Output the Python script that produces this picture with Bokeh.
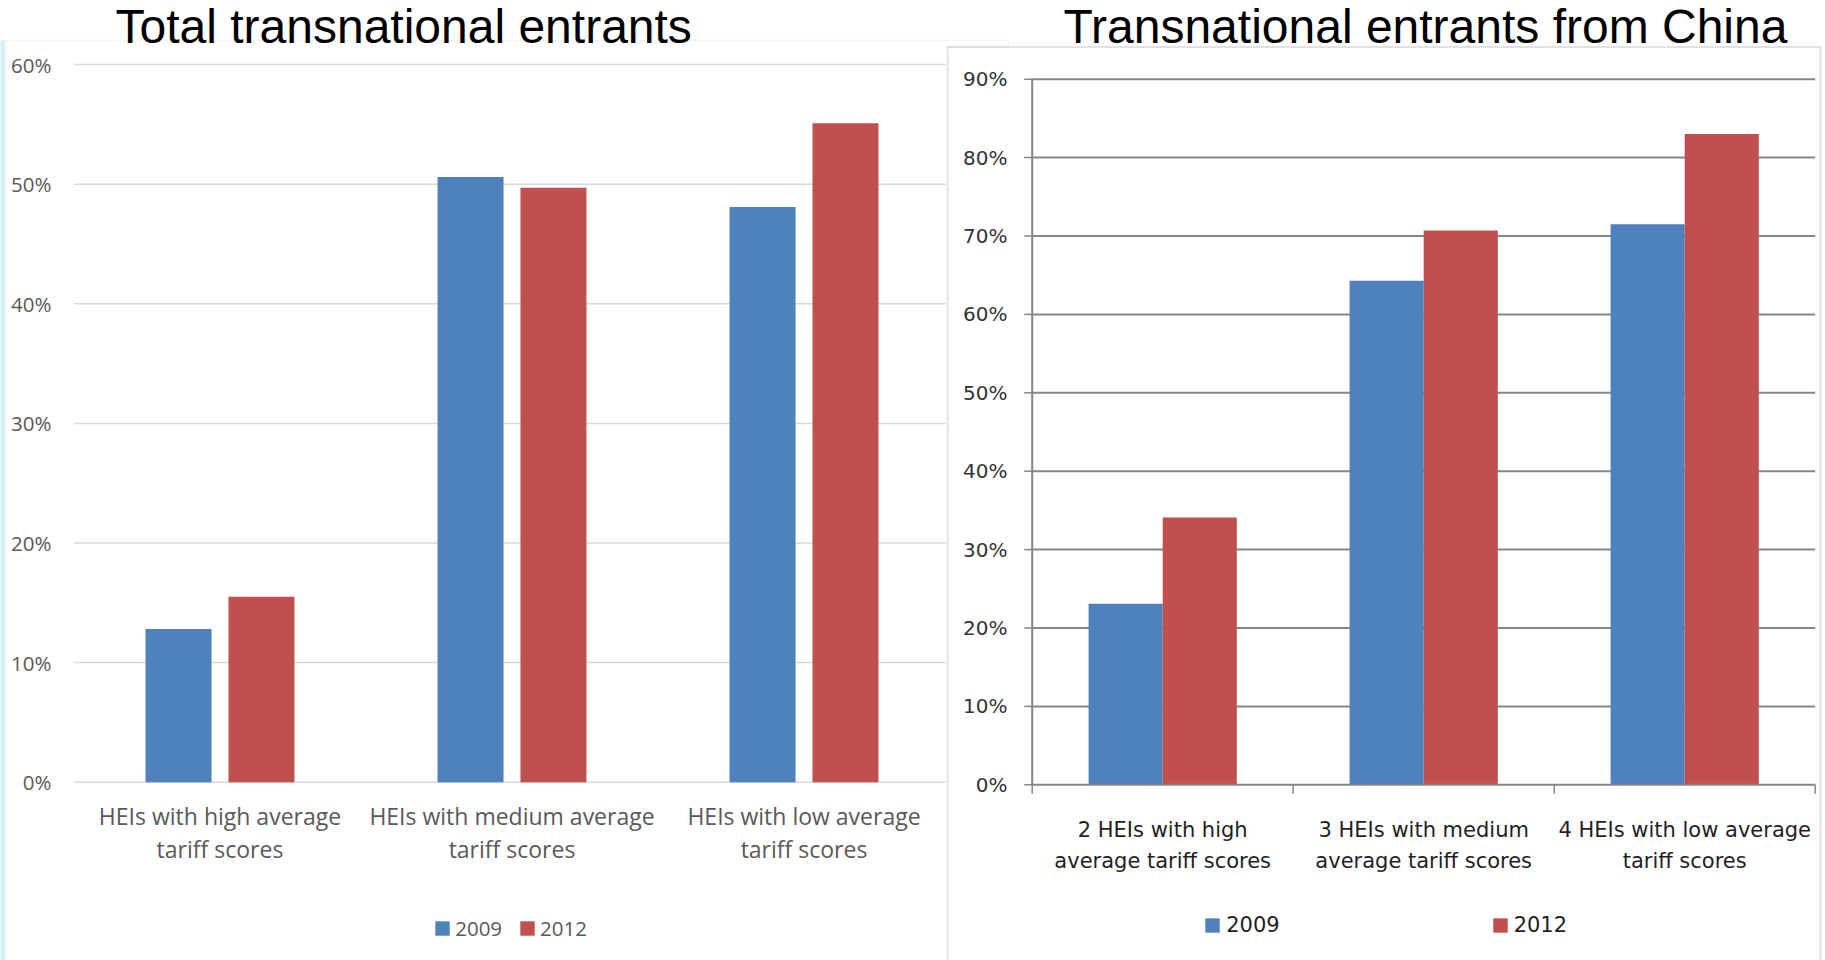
from bokeh.plotting import figure
from bokeh.layouts import row
from bokeh.models import (Range1d, Legend, LegendItem, Label, BoxAnnotation,
                          ColumnDataSource)
from bokeh.core.properties import value
from bokeh.transform import dodge
from bokeh.embed import file_html
from bokeh.resources import INLINE

# ---- data -------------------------------------------------------------
years = ["2009", "2012"]

total_categories = [
    "HEIs with high average\ntariff scores",
    "HEIs with medium average\ntariff scores",
    "HEIs with low average\ntariff scores",
]
total_2009 = [0.128, 0.506, 0.481]
total_2012 = [0.155, 0.497, 0.551]
total_ticks = [0.0, 0.1, 0.2, 0.3, 0.4, 0.5, 0.6]

china_categories = [
    "2 HEIs with high\naverage tariff scores",
    "3 HEIs with medium\naverage tariff scores",
    "4 HEIs with low average\ntariff scores",
]
china_2009 = [0.231, 0.643, 0.715]
china_2012 = [0.341, 0.707, 0.830]
china_ticks = [0.0, 0.1, 0.2, 0.3, 0.4, 0.5, 0.6, 0.7, 0.8, 0.9]

BLUE = "#4f81bd"
RED = "#c0504d"


def pct(t):
    return f"{round(t * 100)}%"


def base_figure(width, x_range, y_range):
    # the plotting frame fills the whole canvas; axes are drawn as glyphs
    p = figure(width=width, height=960, x_range=x_range, y_range=y_range,
               output_backend="svg", toolbar_location=None,
               x_axis_location=None, y_axis_location=None,
               min_border=0, min_border_left=0, min_border_right=0,
               min_border_top=0, min_border_bottom=0)
    p.outline_line_color = None
    p.grid.grid_line_color = None
    p.background_fill_color = "white"
    p.border_fill_color = "white"
    return p


# ---- left chart: total transnational entrants --------------------------
# pixel layout: value axis origin at x=73.5, 292 px per category,
# zero line at y=781.7, 1196 px per 100 %
LX = lambda px: (px - 73.5) / 292
LY = lambda py: (781.7 - py) / 1196

pos_total = [i + 0.5 for i in range(len(total_categories))]
src_total = ColumnDataSource(dict(x=pos_total, y09=total_2009, y12=total_2012,
                                  label=total_categories))
left = base_figure(946, Range1d(LX(0), LX(946)), Range1d(LY(960), LY(0)))

# tinted page edge and the chart-area frame
left.add_layout(BoxAnnotation(left=LX(-10), right=LX(4.5), top=LY(40), bottom=LY(1100),
                              fill_color="#d6f1f4", fill_alpha=1, line_color=None))
left.add_layout(BoxAnnotation(left=LX(5.5), right=LX(1100), top=LY(40), bottom=LY(1100),
                              fill_color=None, fill_alpha=0, line_color="#d9d9d9",
                              line_width=1.5))

# horizontal gridlines (the 0 % line doubles as the category axis)
left.segment(x0=0, x1=LX(946), y0=total_ticks, y1=total_ticks,
             line_color="#d9d9d9", line_width=1.5)

l09 = left.vbar(x=dodge("x", -0.142), top="y09", width=0.226,
                source=src_total, fill_color=BLUE, line_color=None)
l12 = left.vbar(x=dodge("x", 0.142), top="y12", width=0.226,
                source=src_total, fill_color=RED, line_color=None)

left.text(x=LX(51), y=total_ticks, text=[pct(t) for t in total_ticks],
          text_align="right", text_baseline="middle",
          text_font=value("Open Sans"), text_font_size="20.5px",
          text_color="#595959")
left.text(x="x", y=LY(832), text="label", source=src_total,
          text_align="center", text_baseline="middle", text_line_height=1.02,
          text_font=value("Open Sans"), text_font_size="23px",
          text_color="#595959")

left.add_layout(Label(x=LX(115), y=LY(26), text="Total transnational entrants",
                      text_font="Liberation Sans", text_font_size="48px",
                      text_color="black", text_baseline="alphabetic"))

# legend swatches are drawn at 80 % of the glyph box
left.add_layout(Legend(
    items=[LegendItem(label=years[0], renderers=[l09]),
           LegendItem(label=years[1], renderers=[l12])],
    orientation="horizontal", location=(433.2, 18),
    glyph_width=18, glyph_height=18, label_standoff=4, spacing=16,
    padding=0, margin=0, border_line_color=None, background_fill_alpha=0,
    label_text_font="Open Sans", label_text_font_size="20.5px",
    label_text_color="#595959"))

# ---- right chart: transnational entrants from China --------------------
# pixel layout (page coordinates): origin at x=1031.7, 261 px per category,
# zero line at y=784.3, 784 px per 100 %; the canvas starts at x=946
RX = lambda px: (px - 1031.7) / 261
RY = lambda py: (784.3 - py) / 784

pos_china = [i + 0.5 for i in range(len(china_categories))]
bounds_china = list(range(len(china_categories) + 1))
src_china = ColumnDataSource(dict(x=pos_china, y09=china_2009, y12=china_2012,
                                  label=china_categories))
right = base_figure(879, Range1d(RX(946), RX(1825)), Range1d(RY(960), RY(0)))

# tail of the neighbouring frame, then this chart's own frame
right.add_layout(BoxAnnotation(left=RX(900), right=RX(1008), top=RY(40), bottom=RY(46.5),
                               fill_color=None, fill_alpha=0, line_color="#d9d9d9",
                               line_width=1.5))
right.add_layout(BoxAnnotation(left=RX(947), right=RX(1820), top=RY(46.5), bottom=RY(1100),
                               fill_color=None, fill_alpha=0, line_color="#9c9c9c",
                               line_width=2))

AX = "#868686"
n_cat = len(china_categories)
grid_ticks = china_ticks[1:]
right.segment(x0=0, x1=n_cat, y0=grid_ticks, y1=grid_ticks,
              line_color=AX, line_width=2)

r09 = right.vbar(x=dodge("x", -0.142), top="y09", width=0.284,
                 source=src_china, fill_color=BLUE, line_color=None)
r12 = right.vbar(x=dodge("x", 0.142), top="y12", width=0.284,
                 source=src_china, fill_color=RED, line_color=None)

# value axis: spine and outward ticks
right.segment(x0=0, x1=0, y0=china_ticks[0], y1=china_ticks[-1],
              line_color=AX, line_width=2)
right.segment(x0=-8 / 261, x1=0, y0=china_ticks, y1=china_ticks,
              line_color=AX, line_width=1.5)
# category axis: spine and ticks between categories
right.segment(x0=0, x1=n_cat, y0=0, y1=0, line_color=AX, line_width=2)
right.segment(x0=bounds_china, x1=bounds_china, y0=0, y1=-9 / 784,
              line_color=AX, line_width=1.5)

right.text(x=RX(1007), y=china_ticks, text=[pct(t) for t in china_ticks],
           text_align="right", text_baseline="middle",
           text_font=value("DejaVu Sans"), text_font_size="20px",
           text_color="#333333")
right.text(x="x", y=RY(845), text="label", source=src_china,
           text_align="center", text_baseline="middle", text_line_height=1.31,
           text_font=value("DejaVu Sans"), text_font_size="21px",
           text_color="#1f1f1f")

right.add_layout(Label(x=RX(1063), y=RY(26), text="Transnational entrants from China",
                       text_font="Liberation Sans", text_font_size="48px",
                       text_color="black", text_baseline="alphabetic"))

right.add_layout(Legend(
    items=[LegendItem(label=years[0], renderers=[r09]),
           LegendItem(label=years[1], renderers=[r12])],
    orientation="horizontal", location=(257.2, 23),
    glyph_width=18, glyph_height=18, label_standoff=5, spacing=211,
    padding=0, margin=0, border_line_color=None, background_fill_alpha=0,
    label_text_font="DejaVu Sans", label_text_font_size="21px",
    label_text_color="#1f1f1f"))

page = row(left, right, spacing=0)
open("out.html", "w").write(file_html(page, INLINE))
